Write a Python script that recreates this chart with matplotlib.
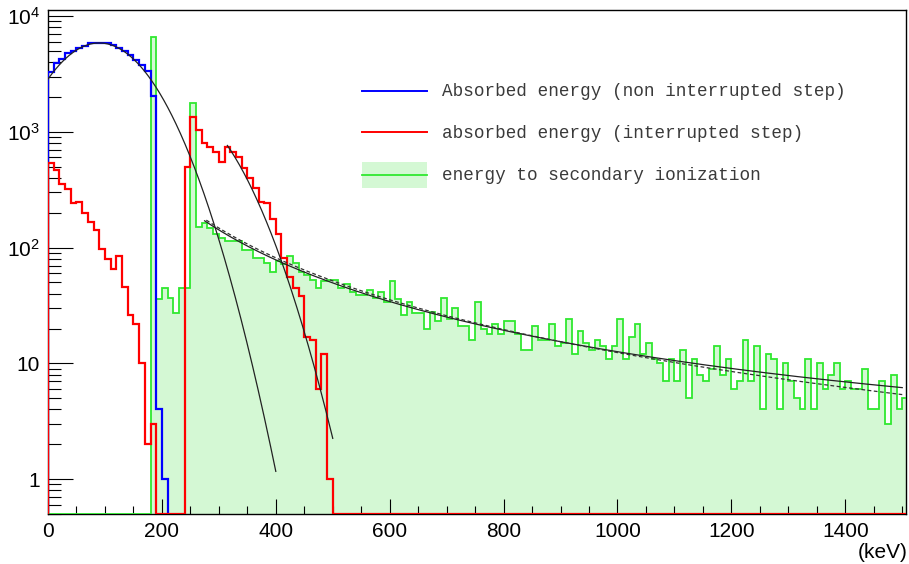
import numpy as np
import matplotlib
matplotlib.use("Agg")
import matplotlib.pyplot as plt
from matplotlib.lines import Line2D
from matplotlib.patches import Rectangle
from matplotlib.ticker import MultipleLocator, FixedLocator, LogLocator, NullFormatter

# ---------------- data (counts per 10 keV bin, starting at 0 keV) ----------------
bin_width = 10.0

blue_counts = [3290, 3935, 4260, 4800, 4990, 5300, 5510, 5850, 5850, 5850,
               5800, 5620, 5300, 4990, 4610, 4175, 3780, 3355, 2043, 4, 1]

red_counts = [540, 470, 356, 323, 244, 248, 200, 167, 143, 98,
              79, 65, 85, 46, 26, 22, 10, 2, 3, 0,
              0, 0, 0, 0, 500, 1350, 1040, 800, 740, 670,
              550, 740, 670, 600, 490, 400, 330, 250, 245, 175,
              130, 82, 56, 45, 38, 17, 16, 6, 12, 1] + [0] * 101

green_counts = [0] * 18 + [
    6600, 36, 45, 37, 27, 45, 45, 1780, 152, 164,
    148, 132, 122, 115, 115, 113, 96, 95, 82, 82,
    74, 61, 76, 72, 84, 74, 62, 58, 53, 45,
    51, 52, 52, 45, 48, 41, 39, 39, 43, 37,
    41, 34, 51, 36, 26, 34, 27, 27, 20, 28,
    23, 37, 24, 30, 21, 21, 16, 34, 20, 18,
    22, 18, 23, 23, 18, 13, 13, 21, 16, 16,
    22, 14, 15, 24, 12, 19, 15, 13, 16, 14,
    11, 14, 24, 11, 17, 22, 12, 15, 11, 10,
    7, 11, 7, 13, 5, 11, 8, 7, 9, 14,
    8, 11, 6, 7, 16, 7, 14, 4, 12, 11,
    4, 10, 7, 5, 4, 11, 4, 10, 6, 8,
    10, 6, 7, 6, 6, 9, 4, 4, 7, 3,
    8, 4, 5]

x_ticks = [0, 200, 400, 600, 800, 1000, 1200, 1400]
y_ticks = [1, 10, 100, 1000, 10000]
y_tick_labels = ["1", "10", r"$\mathregular{10^{2}}$", r"$\mathregular{10^{3}}$", r"$\mathregular{10^{4}}$"]
legend_labels = ["Absorbed energy (non interrupted step)",
                 "absorbed energy (interrupted step)",
                 "energy to secondary ionization"]
x_unit = "(keV)"

# fitted functions (parameters)
blue_fit = dict(amp=5850.0, mean=90.0, sigma=75.1, xmin=0.0, xmax=400.0)
red_fit = dict(amp=1790.0, mean=212.0, sigma=78.8, xmin=315.0, xmax=500.0)
tail_fit = dict(norm=2.24e7, index=2.1, const=1.38, xmin=275.0, xmax=1500.0)
tail_fit2 = dict(norm=170.0 * 280.0 ** 2.058, index=2.058, xmin=278.0, xmax=1500.0)

x_range = (0.0, 1506.6)
y_range = (0.5, 11270.0)

# ---------------- style ----------------
plt.rcParams["font.family"] = ["Liberation Sans", "DejaVu Sans"]
plt.rcParams["mathtext.fontset"] = "custom"
plt.rcParams["mathtext.rm"] = "Liberation Sans"
plt.rcParams["hatch.linewidth"] = 0.6
plt.rcParams["hatch.color"] = "#8ee88e"

W, H = 909, 564
fig = plt.figure(figsize=(W / 100, H / 100), dpi=100)
L, R, T, B = 48, 906, 10, 514
ax = fig.add_axes([L / W, (H - B) / H, (R - L) / W, (B - T) / H])
ax.set_yscale("log")
ax.set_xlim(*x_range)
ax.set_ylim(*y_range)

ymin = y_range[0]

def to_plot(v):
    v = np.asarray(v, dtype=float)
    return np.where(v > 0, v, ymin)

def edges_for(v):
    return np.arange(len(v) + 1) * bin_width

green_col = "#2fe82f"
# green filled histogram
gv = to_plot(green_counts)
ge = edges_for(green_counts)
ax.stairs(gv, ge, baseline=ymin, fill=True, facecolor="#d4f8d4", edgecolor="none",
          hatch="....", zorder=1)
ax.stairs(gv, ge, baseline=ymin, color=green_col, lw=1.3, zorder=2)

# blue and red histograms
ax.stairs(to_plot(blue_counts), edges_for(blue_counts), baseline=ymin,
          color="#0000ff", lw=1.6, zorder=3)
ax.stairs(to_plot(red_counts), edges_for(red_counts), baseline=ymin,
          color="#ff0000", lw=1.6, zorder=4)

# fit curves
def gauss(p):
    x = np.linspace(p["xmin"], p["xmax"], 400)
    return x, p["amp"] * np.exp(-0.5 * ((x - p["mean"]) / p["sigma"]) ** 2)

x, y = gauss(blue_fit)
ax.plot(x, y, color="#222222", lw=0.9, zorder=5)
x, y = gauss(red_fit)
ax.plot(x, y, color="#222222", lw=0.9, zorder=5)
x = np.linspace(tail_fit["xmin"], tail_fit["xmax"], 400)
ax.plot(x, tail_fit["norm"] * x ** (-tail_fit["index"]) + tail_fit["const"],
        color="#222222", lw=0.9, zorder=5)
x = np.linspace(tail_fit2["xmin"], tail_fit2["xmax"], 400)
ax.plot(x, tail_fit2["norm"] * x ** (-tail_fit2["index"]),
        color="#333333", lw=0.9, ls=(0, (3, 2)), zorder=5)

# axes / ticks
ax.xaxis.set_major_locator(FixedLocator(x_ticks))
ax.xaxis.set_minor_locator(MultipleLocator(50))
ax.set_xticklabels([str(t) for t in x_ticks])
ax.yaxis.set_major_locator(FixedLocator(y_ticks))
ax.set_yticklabels(y_tick_labels)
ax.yaxis.set_minor_locator(LogLocator(base=10, subs=np.arange(2, 10)))
ax.yaxis.set_minor_formatter(NullFormatter())
ax.tick_params(axis="both", which="both", direction="in", top=False, right=False,
               labelsize=15, width=0.8, color="black")
ax.tick_params(axis="x", which="major", length=10.5, pad=6)
ax.tick_params(axis="x", which="minor", length=5.5)
ax.tick_params(axis="y", which="major", length=18, pad=6)
ax.tick_params(axis="y", which="minor", length=9)
for s in ax.spines.values():
    s.set_linewidth(1.0)
    s.set_zorder(1.5)

fig.text(908 / W, (H - 553) / H, x_unit, ha="right", va="center", fontsize=15)

# legend (manual, no frame)
def fx(px):
    return (px - L) / (R - L)

def fy(py):
    return (B - py) / (B - T)

tr = ax.transAxes
ax.add_line(Line2D([fx(362), fx(427)], [fy(91), fy(91)], color="#0000ff", lw=1.4, transform=tr, zorder=7))
ax.add_line(Line2D([fx(362), fx(427)], [fy(132), fy(132)], color="#ff0000", lw=1.4, transform=tr, zorder=7))
ax.add_patch(Rectangle((fx(362), fy(188)), fx(427) - fx(362), fy(162) - fy(188), transform=tr,
                       facecolor="#d4f8d4", edgecolor="none", hatch="....", zorder=7))
ax.add_line(Line2D([fx(362), fx(427)], [fy(175), fy(175)], color=green_col, lw=1.3, transform=tr, zorder=8))
for lab, py in zip(legend_labels, [92, 133, 175]):
    ax.text(fx(442), fy(py), lab, transform=tr, ha="left", va="center",
            fontsize=12.7, family=["Liberation Mono", "DejaVu Sans Mono"], color="#3a3a3a", zorder=8)

fig.savefig("out.png", dpi=100)
